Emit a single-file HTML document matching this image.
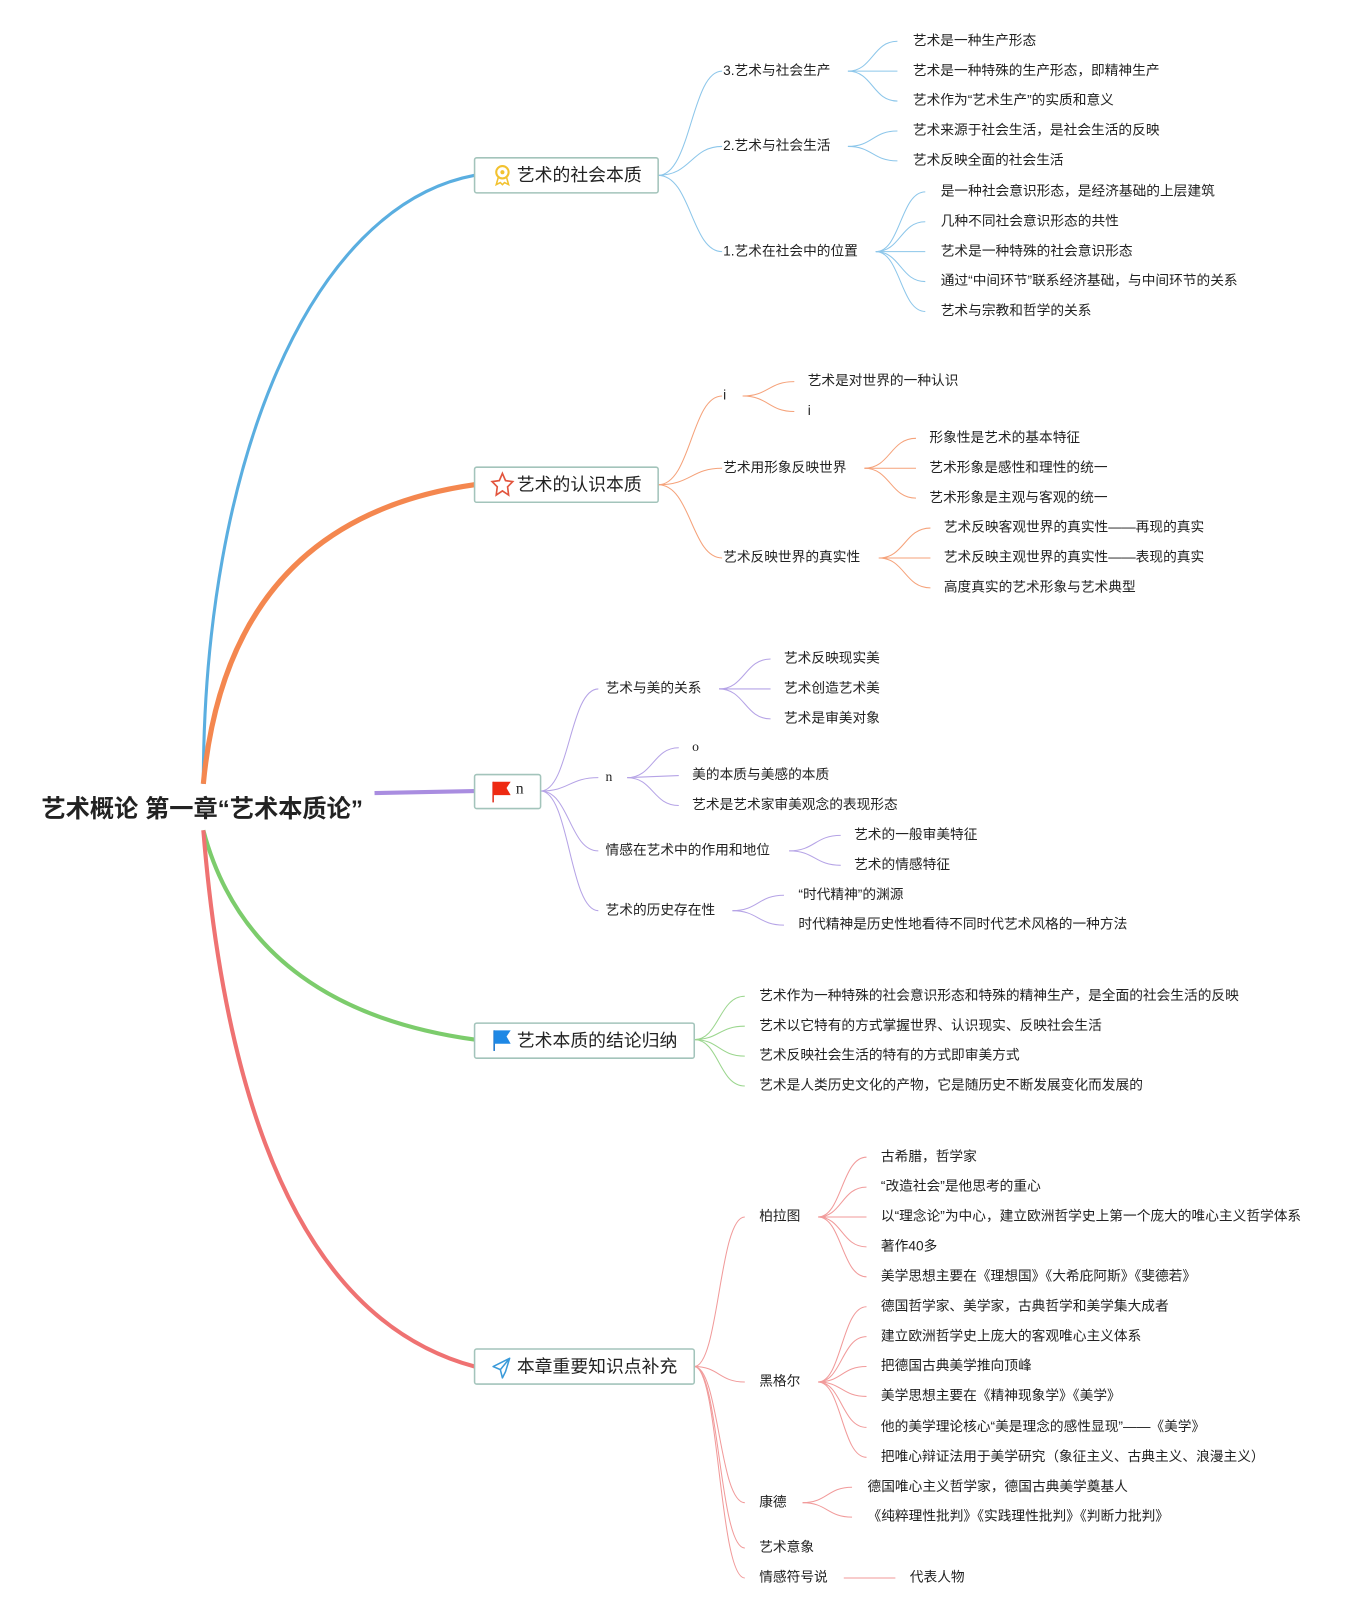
<!DOCTYPE html>
<html><head><meta charset="utf-8"><style>
html,body{margin:0;padding:0;background:#fff;}
svg{display:block;}
text{font-family:"Liberation Sans","Noto Sans CJK SC",sans-serif;fill:#222;}
.t{font-size:13.3px;dominant-baseline:middle;}
.b{font-size:17.3px;dominant-baseline:middle;}
.bl path{stroke:#8cc6ea;fill:none;stroke-width:1;}
.or path{stroke:#f5a27a;fill:none;stroke-width:1;}
.pu path{stroke:#b5a3e6;fill:none;stroke-width:1;}
.gr path{stroke:#9bd68e;fill:none;stroke-width:1;}
.rd path{stroke:#f19a9a;fill:none;stroke-width:1;}
.box{fill:#fff;stroke:#a3c4bb;stroke-width:1.5;}
</style></head><body>
<svg width="1372" height="1612" viewBox="0 0 1330 1563" xmlns="http://www.w3.org/2000/svg">
<path d="M197,760 C197,450 300,200 460,170" stroke="#5aaee0" stroke-width="3" fill="none"/>
<path d="M197,760 C215,570 320,490 460,470" stroke="#f4874f" stroke-width="5" fill="none"/>
<path d="M363,769 L460,767" stroke="#a98de0" stroke-width="4" fill="none"/>
<path d="M197,805 C230,930 330,990 460,1008" stroke="#7ccc6c" stroke-width="4" fill="none"/>
<path d="M197,805 C225,1150 330,1290 460,1325" stroke="#ef7272" stroke-width="4" fill="none"/>

<text x="40" y="786" style="font-size:23.5px;font-weight:bold;dominant-baseline:middle;">艺术概论 第一章“艺术本质论”</text>

<g class="bl">
<path d="M638,170 C670,170 670,69 700,69"/>
<path d="M638,170 C670,170 670,142 700,142"/>
<path d="M638,170 C670,170 670,244 700,244"/>
<path d="M822,69 C846,69 846,40 870,40"/><path d="M822,69 L870,69"/><path d="M822,69 C846,69 846,98 870,98"/>
<path d="M822,142 C846,142 846,127 870,127"/><path d="M822,142 C846,142 846,156 870,156"/>
<path d="M849,244 C873,244 873,186 897,186"/><path d="M849,244 C873,244 873,215 897,215"/><path d="M849,244 L897,244"/><path d="M849,244 C873,244 873,273 897,273"/><path d="M849,244 C873,244 873,302 897,302"/>
</g>
<rect class="box" x="460" y="153" width="178" height="34" rx="2"/>
<g transform="translate(487,170)"><circle cx="0" cy="-3" r="6" fill="none" stroke="#f2c230" stroke-width="2"/><circle cx="0" cy="-3" r="2" fill="#f2c230"/><path d="M-4,2 L-6,9 L-2,7 L0,9 L2,7 L6,9 L4,2" fill="none" stroke="#f2c230" stroke-width="1.5"/></g>
<text class="b" x="501" y="171">艺术的社会本质</text>
<text class="t" x="701" y="69">3.艺术与社会生产</text>
<text class="t" x="701" y="142">2.艺术与社会生活</text>
<text class="t" x="701" y="244">1.艺术在社会中的位置</text>
<text class="t" x="885" y="40">艺术是一种生产形态</text>
<text class="t" x="885" y="69">艺术是一种特殊的生产形态，即精神生产</text>
<text class="t" x="885" y="98">艺术作为“艺术生产”的实质和意义</text>
<text class="t" x="885" y="127">艺术来源于社会生活，是社会生活的反映</text>
<text class="t" x="885" y="156">艺术反映全面的社会生活</text>
<text class="t" x="912" y="186">是一种社会意识形态，是经济基础的上层建筑</text>
<text class="t" x="912" y="215">几种不同社会意识形态的共性</text>
<text class="t" x="912" y="244">艺术是一种特殊的社会意识形态</text>
<text class="t" x="912" y="273">通过“中间环节”联系经济基础，与中间环节的关系</text>
<text class="t" x="912" y="302">艺术与宗教和哲学的关系</text>

<g class="or">
<path d="M638,470 C670,470 670,384 700,384"/>
<path d="M638,470 C670,470 670,454 700,454"/>
<path d="M638,470 C670,470 670,541 700,541"/>
<path d="M720,384 C745,384 745,370 770,370"/><path d="M720,384 C745,384 745,399 770,399"/>
<path d="M838,454 C863,454 863,425 888,425"/><path d="M838,454 L888,454"/><path d="M838,454 C863,454 863,483 888,483"/>
<path d="M852,541 C877,541 877,512 902,512"/><path d="M852,541 L902,541"/><path d="M852,541 C877,541 877,570 902,570"/>
</g>
<rect class="box" x="460" y="453" width="178" height="34" rx="2"/>
<path d="M487,459 L490,466 L497,467 L492,472 L493,480 L487,476 L481,480 L482,472 L477,467 L484,466 Z" fill="none" stroke="#e2553e" stroke-width="1.6"/>
<text class="b" x="501" y="471">艺术的认识本质</text>
<text class="t" x="701" y="384">i</text>
<text class="t" x="701" y="454">艺术用形象反映世界</text>
<text class="t" x="701" y="541">艺术反映世界的真实性</text>
<text class="t" x="783" y="370">艺术是对世界的一种认识</text>
<text class="t" x="783" y="399">i</text>
<text class="t" x="901" y="425">形象性是艺术的基本特征</text>
<text class="t" x="901" y="454">艺术形象是感性和理性的统一</text>
<text class="t" x="901" y="483">艺术形象是主观与客观的统一</text>
<text class="t" x="915" y="512">艺术反映客观世界的真实性——再现的真实</text>
<text class="t" x="915" y="541">艺术反映主观世界的真实性——表现的真实</text>
<text class="t" x="915" y="570">高度真实的艺术形象与艺术典型</text>

<g class="pu">
<path d="M524,767 C552,767 552,668 580,668"/>
<path d="M524,767 C552,767 552,754 580,754"/>
<path d="M524,767 C552,767 552,825 580,825"/>
<path d="M524,767 C552,767 552,883 580,883"/>
<path d="M697,668 C722,668 722,639 747,639"/><path d="M697,668 L747,668"/><path d="M697,668 C722,668 722,697 747,697"/>
<path d="M608,754 C633,754 633,725 658,725"/><path d="M608,754 L658,752"/><path d="M608,754 C633,754 633,781 658,781"/>
<path d="M765,825 C790,825 790,810 815,810"/><path d="M765,825 C790,825 790,839 815,839"/>
<path d="M710,883 C735,883 735,868 760,868"/><path d="M710,883 C735,883 735,897 760,897"/>
</g>
<rect class="box" x="460" y="751" width="64" height="33" rx="2"/>
<path d="M478,758 L478,778" stroke="#e0301e" stroke-width="1.5"/><path d="M478,758 L495,758 L491,764 L495,771 L478,771 Z" fill="#ee2a12"/>
<text class="t" x="500" y="766" style="font-size:15px;font-family:'Liberation Serif',serif">n</text>
<text class="t" x="587" y="668">艺术与美的关系</text>
<text class="t" x="587" y="754" style="font-family:'Liberation Serif',serif">n</text>
<text class="t" x="587" y="825">情感在艺术中的作用和地位</text>
<text class="t" x="587" y="883">艺术的历史存在性</text>
<text class="t" x="760" y="639">艺术反映现实美</text>
<text class="t" x="760" y="668">艺术创造艺术美</text>
<text class="t" x="760" y="697">艺术是审美对象</text>
<text class="t" x="671" y="725" style="font-family:'Liberation Serif',serif">o</text>
<text class="t" x="671" y="752">美的本质与美感的本质</text>
<text class="t" x="671" y="781">艺术是艺术家审美观念的表现形态</text>
<text class="t" x="828" y="810">艺术的一般审美特征</text>
<text class="t" x="828" y="839">艺术的情感特征</text>
<text class="t" x="774" y="868">“时代精神”的渊源</text>
<text class="t" x="774" y="897">时代精神是历史性地看待不同时代艺术风格的一种方法</text>

<g class="gr">
<path d="M673,1008 C697,1008 697,966 722,966"/>
<path d="M673,1008 C697,1008 697,995 722,995"/>
<path d="M673,1008 C697,1008 697,1024 722,1024"/>
<path d="M673,1008 C697,1008 697,1053 722,1053"/>
</g>
<rect class="box" x="460" y="992" width="213" height="34" rx="2"/>
<path d="M479,999 L479,1019" stroke="#1a73c8" stroke-width="1.5"/><path d="M479,999 L495,999 L491,1005 L495,1012 L479,1012 Z" fill="#1e88e5"/>
<text class="b" x="501" y="1010">艺术本质的结论归纳</text>
<text class="t" x="736" y="966">艺术作为一种特殊的社会意识形态和特殊的精神生产，是全面的社会生活的反映</text>
<text class="t" x="736" y="995">艺术以它特有的方式掌握世界、认识现实、反映社会生活</text>
<text class="t" x="736" y="1024">艺术反映社会生活的特有的方式即审美方式</text>
<text class="t" x="736" y="1053">艺术是人类历史文化的产物，它是随历史不断发展变化而发展的</text>

<g class="rd">
<path d="M673,1325 C697,1325 697,1180 722,1180"/>
<path d="M673,1325 C697,1325 697,1340 722,1340"/>
<path d="M673,1325 C697,1325 697,1457 722,1457"/>
<path d="M673,1325 C697,1325 697,1501 722,1501"/>
<path d="M673,1325 C697,1325 697,1530 722,1530"/>
<path d="M793,1180 C816,1180 816,1122 840,1122"/><path d="M793,1180 C816,1180 816,1151 840,1151"/><path d="M793,1180 L840,1180"/><path d="M793,1180 C816,1180 816,1209 840,1209"/><path d="M793,1180 C816,1180 816,1238 840,1238"/>
<path d="M793,1340 C816,1340 816,1267 840,1267"/><path d="M793,1340 C816,1340 816,1296 840,1296"/><path d="M793,1340 C816,1340 816,1325 840,1325"/><path d="M793,1340 C816,1340 816,1354 840,1354"/><path d="M793,1340 C816,1340 816,1384 840,1384"/><path d="M793,1340 C816,1340 816,1413 840,1413"/>
<path d="M778,1457 C802,1457 802,1442 826,1442"/><path d="M778,1457 C802,1457 802,1471 826,1471"/>
<path d="M818,1530 L868,1530"/>
</g>
<rect class="box" x="460" y="1308" width="213" height="34" rx="2"/>
<path d="M494,1317 L478,1325 L485,1328 L487,1336 L490,1330 Z M485,1328 L494,1317" fill="none" stroke="#3a9ad9" stroke-width="1.5" stroke-linejoin="round"/>
<text class="b" x="501" y="1326">本章重要知识点补充</text>
<text class="t" x="736" y="1180">柏拉图</text>
<text class="t" x="736" y="1340">黑格尔</text>
<text class="t" x="736" y="1457">康德</text>
<text class="t" x="736" y="1501">艺术意象</text>
<text class="t" x="736" y="1530">情感符号说</text>
<text class="t" x="854" y="1122">古希腊，哲学家</text>
<text class="t" x="854" y="1151">“改造社会”是他思考的重心</text>
<text class="t" x="854" y="1180">以“理念论”为中心，建立欧洲哲学史上第一个庞大的唯心主义哲学体系</text>
<text class="t" x="854" y="1209">著作40多</text>
<text class="t" x="854" y="1238">美学思想主要在《理想国》《大希庇阿斯》《斐德若》</text>
<text class="t" x="854" y="1267">德国哲学家、美学家，古典哲学和美学集大成者</text>
<text class="t" x="854" y="1296">建立欧洲哲学史上庞大的客观唯心主义体系</text>
<text class="t" x="854" y="1325">把德国古典美学推向顶峰</text>
<text class="t" x="854" y="1354">美学思想主要在《精神现象学》《美学》</text>
<text class="t" x="854" y="1384">他的美学理论核心“美是理念的感性显现”——《美学》</text>
<text class="t" x="854" y="1413">把唯心辩证法用于美学研究（象征主义、古典主义、浪漫主义）</text>
<text class="t" x="841" y="1442">德国唯心主义哲学家，德国古典美学奠基人</text>
<text class="t" x="841" y="1471">《纯粹理性批判》《实践理性批判》《判断力批判》</text>
<text class="t" x="882" y="1530">代表人物</text>
</svg>
</body></html>
